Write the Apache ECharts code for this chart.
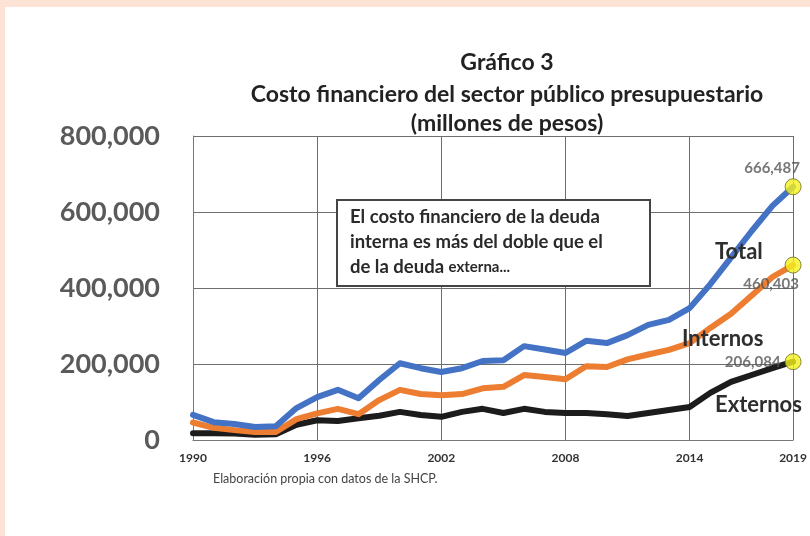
<!DOCTYPE html>
<html>
<head>
<meta charset="utf-8">
<script src="https://cdn.jsdelivr.net/npm/echarts@6/dist/echarts.min.js"></script>
<style>
  html, body { margin: 0; padding: 0; }
  #main {
    width: 810px; height: 536px;
    background: #ffffff;
    box-shadow: inset 5px 7px 0 #fde2d6;
  }
</style>
</head>
<body>
<div id="main"></div>
<script>
// Años del periodo 1990–2019
const years = ['1990','1991','1992','1993','1994','1995','1996','1997','1998','1999',
               '2000','2001','2002','2003','2004','2005','2006','2007','2008','2009',
               '2010','2011','2012','2013','2014','2015','2016','2017','2018','2019'];

// Costo financiero (millones de pesos)
const total = [66000, 47000, 42000, 34000, 36000, 84000, 113000, 132000, 110000, 158000,
               202000, 189000, 179000, 189000, 208000, 210000, 247000, 238000, 229000, 261000,
               255000, 276000, 303000, 316000, 347000, 410000, 480000, 550000, 616000, 666487];
const internos = [46000, 32000, 26000, 21000, 21000, 55000, 70000, 82000, 68000, 105000,
                  132000, 121000, 118000, 121000, 136000, 140000, 171000, 166000, 160000, 194000,
                  192000, 212000, 225000, 237000, 255000, 295000, 332000, 380000, 429000, 460403];
const externos = [18000, 18000, 17000, 14000, 15000, 40000, 52000, 50000, 57000, 64000,
                  74000, 66000, 61000, 74000, 82000, 71000, 82000, 74000, 71000, 71000,
                  68000, 63000, 71000, 79000, 87000, 124000, 153000, 171000, 189000, 206084];

// Años rotulados en el eje horizontal
const yearTicks = ['1990', '1996', '2002', '2008', '2014', '2019'];

const FONT = 'Lato';
const last = years.length - 1;
const fmt = v => v.toLocaleString('en-US');

const chart = echarts.init(document.getElementById('main'));

function lineSeries(name, data, color) {
  return {
    name, type: 'line', data,
    symbol: 'none', smooth: false,
    lineStyle: { width: 6, color, join: 'round', cap: 'round' },
    z: 3
  };
}

function endDot(value, label) {
  return {
    type: 'scatter',
    data: [[years[last], value]],
    symbolSize: 16,
    itemStyle: { color: '#f4f01e', borderColor: '#6b6b2a', borderWidth: 1 },
    label: Object.assign({
      show: true,
      formatter: () => fmt(value),
      fontFamily: FONT, fontWeight: 'bold', fontSize: 15, color: '#555555'
    }, label),
    z: 5
  };
}

function titleLine(text, y) {
  return {
    type: 'text', x: 507, y, z: 10,
    style: { text, font: `bold 23px ${FONT}`, fill: '#222222', align: 'center', verticalAlign: 'middle' }
  };
}

function seriesName(text, x, y) {
  return {
    type: 'text', x, y, z: 10,
    style: { text, font: `bold 22px ${FONT}`, fill: '#2e2e2e', verticalAlign: 'middle' }
  };
}

chart.setOption({
  backgroundColor: 'transparent',
  animation: false,
  grid: { left: 193, right: 16, top: 136, bottom: 96, show: false },
  xAxis: {
    type: 'category',
    data: years,
    boundaryGap: false,
    axisLine: { show: true, lineStyle: { color: '#777777', width: 1 } },
    axisTick: { show: false },
    axisLabel: {
      interval: (i, v) => yearTicks.includes(v),
      margin: 12,
      fontFamily: FONT, fontWeight: 'bold', fontSize: 12, color: '#333333'
    },
    splitLine: {
      show: true,
      interval: (i, v) => yearTicks.includes(v) && i > 0,
      lineStyle: { color: '#6e6e6e', width: 1 }
    }
  },
  yAxis: {
    type: 'value',
    min: 0, max: 800000, interval: 200000,
    axisLine: { show: true, lineStyle: { color: '#777777', width: 1 } },
    axisTick: { show: false },
    axisLabel: {
      margin: 33,
      formatter: v => fmt(v),
      fontFamily: FONT, fontWeight: 'bold', fontSize: 27, color: '#5a5a5a'
    },
    splitLine: { show: true, lineStyle: { color: '#6e6e6e', width: 1 } }
  },
  series: [
    lineSeries('Externos', externos, '#1c1c1c'),
    lineSeries('Internos', internos, '#ed7d31'),
    lineSeries('Total', total, '#4472c4'),
    endDot(total[last], { position: 'top', offset: [-21, 0], distance: 3 }),
    endDot(internos[last], { position: 'bottom', offset: [-22, 0], distance: 3 }),
    endDot(externos[last], { position: 'left', distance: 4 })
  ],
  graphic: [
    titleLine('Gráfico 3', 63),
    titleLine('Costo financiero del sector público presupuestario', 95),
    titleLine('(millones de pesos)', 124),
    {
      type: 'rect', z: 10,
      shape: { x: 337, y: 200, width: 313, height: 86 },
      style: { fill: '#ffffff', stroke: '#444444', lineWidth: 2 }
    },
    {
      type: 'text', x: 350, y: 205, z: 11,
      style: {
        text: '{b|El costo financiero de la deuda}\n{b|interna es más del doble que el}\n{b|de la deuda }{s|externa...}',
        rich: {
          b: { font: `bold 18.5px ${FONT}`, fill: '#2a2a2a', lineHeight: 25 },
          s: { font: `bold 15px ${FONT}`, fill: '#2a2a2a', lineHeight: 25 }
        }
      }
    },
    seriesName('Total', 715, 252),
    seriesName('Internos', 682, 339),
    seriesName('Externos', 715, 405),
    {
      type: 'text', x: 213, y: 479, z: 10,
      style: { text: 'Elaboración propia con datos de la SHCP.', font: `12.5px ${FONT}`, fill: '#444444', verticalAlign: 'middle' }
    }
  ]
});
</script>
</body>
</html>
